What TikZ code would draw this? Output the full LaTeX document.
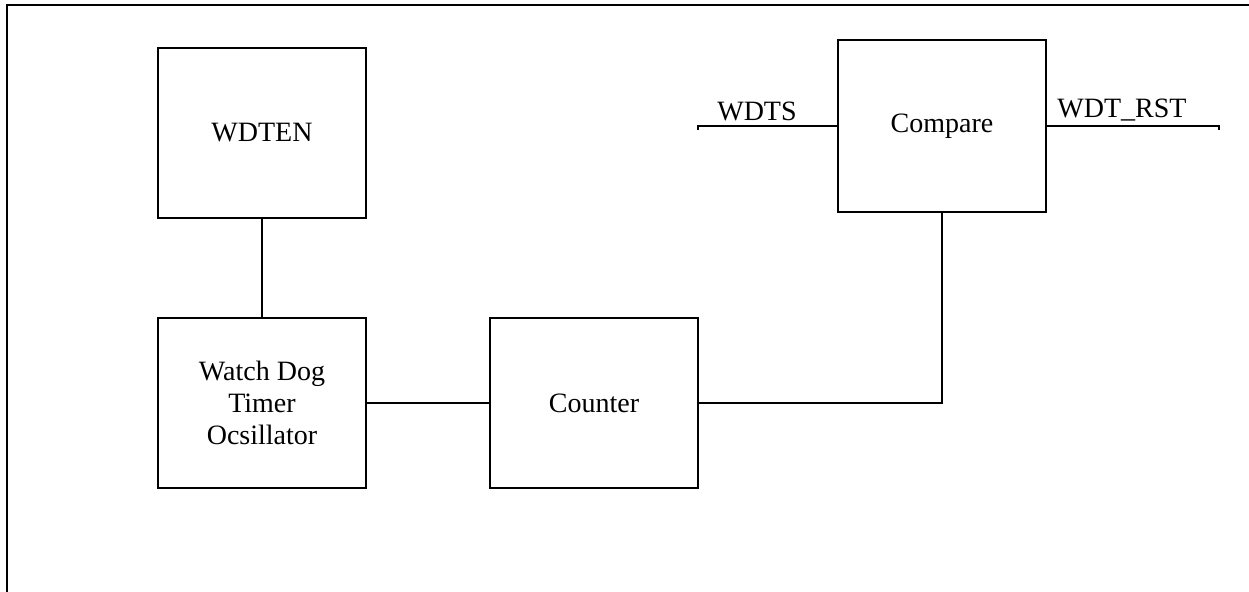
\documentclass[tikz,border=0pt]{standalone}
\usepackage{fontspec}
\setmainfont{Liberation Serif}
\usepackage{tikz}

\begin{document}
\begin{tikzpicture}[x=0.5pt,y=-0.5pt,line width=0.6pt,
  blockbox/.style={draw,minimum width=104pt,minimum height=85pt,inner sep=0,align=center,
    font=\fontsize{14}{16}\selectfont},
  sigtext/.style={anchor=south,inner sep=2pt,font=\fontsize{14}{16}\selectfont}]
\useasboundingbox (0,0) rectangle (1249,592);
% page frame
\draw (7,592) -- (7,5) -- (1249,5);
% blocks
\node[blockbox] (wdten) at (262,133) {WDTEN};
\node[blockbox] (osc) at (262,403) {Watch Dog\\Timer\\Ocsillator};
\node[blockbox] (counter) at (594,403) {Counter};
\node[blockbox,minimum height=86pt] (compare) at (942,126) {Compare};
% signal ends
\coordinate (wdtsin) at (698,126);
\coordinate (rstout) at (1219,126);
\node[sigtext] (wdts) at (757,126) {WDTS};
\node[sigtext] (wdtrst) at (1122,126) {WDT\_RST};
% wires
\draw (wdten) -- (osc);
\draw (osc) -- (counter);
\draw ([yshift=2pt]counter.east) -- (counter.east) -| (compare.south);
\draw ([yshift=-2pt]wdtsin) -- (wdtsin) -- (compare.west);
\draw (compare.east) -- (rstout) -- ([yshift=-2pt]rstout);
\end{tikzpicture}
\end{document}
